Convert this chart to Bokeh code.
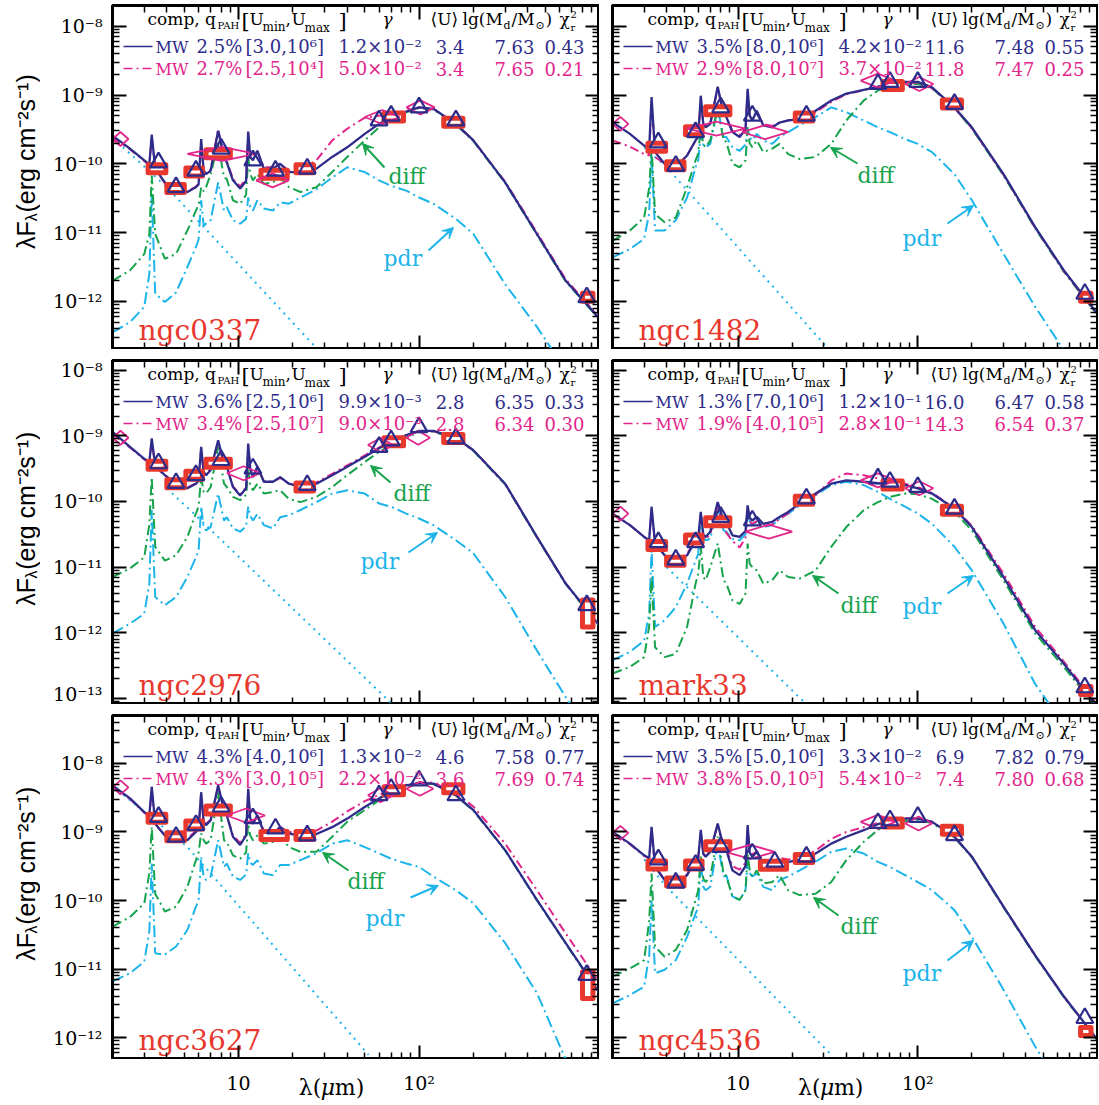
import math
from bokeh.plotting import figure
from bokeh.layouts import column, row
from bokeh.models import (Range1d, FixedTicker, LogAxis, CustomJSTickFormatter,
                          Arrow, VeeHead, Spacer)
from bokeh.core.properties import value
from bokeh.embed import file_html
from bokeh.resources import INLINE

# ---------------------------------------------------------------------------
# Model wavelength grid (micron); every model curve below is lg(lambda F_lambda)
# in erg cm^-2 s^-1 sampled on this grid.
# ---------------------------------------------------------------------------
WAVE = [2.0, 2.5, 3.0, 3.2, 3.3, 3.45, 3.9, 4.5, 5.2, 5.8,
        6.0, 6.2, 6.4, 6.6, 7.0, 7.7, 8.3, 8.6, 9.3, 10.2,
        11.0, 11.3, 11.6, 12.0, 12.7, 13.8, 15.5, 17.0, 19.0, 22.0,
        27.0, 33.0, 40.0, 50.0, 60.0, 70.0, 85.0, 100.0, 120.0, 160.0,
        200.0, 300.0, 450.0, 650.0, 1000.0]

# photometric bands of the observed points (IRAC, IRS-PU 16, MIPS, SCUBA)
OBS_WAVE = [3.6, 4.5, 5.8, 8.0, 16.0, 24.0, 70.0, 160.0, 850.0]
OBS_LO = [3.15, 4.0, 5.1, 6.6, 13.3, 20.8, 64.0, 137.0, 805.0]
OBS_HI = [3.95, 5.0, 6.3, 9.0, 18.6, 26.0, 82.0, 175.0, 920.0]
# bands at which the first model is convolved (triangles)
MODEL_BANDS = [3.6, 4.5, 5.8, 8.0, 12.0, 16.0, 24.0, 60.0, 70.0, 100.0, 160.0, 850.0]

# ---------------- ngc0337 ----------------
NGC0337_MW1 = [-9.59, -9.78, -9.95, -10.01, -9.575, -10.07, -10.27, -10.41, -10.41, -10.34,
               -10.30, -9.64, -10.10, -10.15, -10.10, -9.52, -9.90, -9.98, -10.24, -10.36,
               -10.25, -9.53, -9.90, -9.95, -9.81, -10.07, -10.07, -10.00, -10.12, -10.12,
               -10.07, -9.90, -9.76, -9.565, -9.42, -9.32, -9.24, -9.18, -9.20, -9.42,
               -9.66, -10.27, -11.02, -11.70, -12.25]
NGC0337_MW2 = [-9.62, -9.79, -9.96, -10.02, -9.62, -10.08, -10.28, -10.41, -10.40, -10.33,
               -10.29, -9.68, -10.10, -10.14, -10.08, -9.50, -9.88, -9.96, -10.22, -10.33,
               -10.22, -9.56, -9.90, -9.94, -9.82, -10.05, -10.05, -10.00, -10.10, -10.08,
               -9.95, -9.66, -9.49, -9.33, -9.30, -9.28, -9.23, -9.18, -9.20, -9.42,
               -9.66, -10.26, -11.00, -11.68, -12.23]
NGC0337_DIFF = [-11.70, -11.55, -11.31, -11.02, -10.17, -11.02, -11.38, -11.31, -10.97, -10.68,
                -10.60, -10.34, -10.40, -10.34, -10.15, -9.71, -10.20, -10.22, -10.53, -10.58,
                -10.45, -9.90, -10.15, -10.24, -10.15, -10.29, -10.27, -10.20, -10.34, -10.41,
                -10.34, -10.12, -9.90, -9.66, -9.47, -9.35, -9.25, -9.19, -9.21, -9.43,
                -9.67, -10.28, -11.03, -11.71, -12.26]
NGC0337_PDR = [-12.45, -12.30, -12.08, -11.60, -10.44, -11.89, -12.01, -11.87, -11.50, -11.21,
               -11.10, -10.53, -10.90, -10.87, -10.82, -10.27, -10.68, -10.63, -10.82, -10.87,
               -10.80, -10.49, -10.62, -10.68, -10.53, -10.65, -10.68, -10.56, -10.58, -10.49,
               -10.37, -10.20, -10.05, -10.12, -10.24, -10.32, -10.39, -10.49, -10.58, -10.80,
               -11.02, -11.75, -12.37, -13.00, -13.90]
NGC0337_STAR_WAVE = [2.0, 4.0, 27.7]
NGC0337_STAR = [-9.62, -10.34, -12.71]
NGC0337_OBS = [-10.07, -10.36, -10.12, -9.855, -10.15, -10.07, -9.32, -9.395, -11.94]
NGC0337_OBS_RANGE = [None] * 9
NGC0337_BAND = [-9.98, -10.34, -10.10, -9.78, -9.95, -10.10, -10.07, -9.37, -9.30, -9.18, -9.37, -11.94]
NGC0337_BROAD = [(2.0, 2.45, -9.64), (5.2, 12.5, -9.855), (12.5, 19.0, -10.24),
                 (50.0, 78.0, -9.32), (85.0, 122.0, -9.18)]

# ---------------- ngc1482 ----------------
NGC1482_MW1 = [-9.395, -9.565, -9.735, -9.78, -9.03, -9.83, -10.00, -10.05, -9.88, -9.66,
               -9.60, -9.01, -9.42, -9.47, -9.42, -8.88, -9.27, -9.32, -9.54, -9.61,
               -9.50, -8.91, -9.30, -9.37, -9.23, -9.44, -9.47, -9.40, -9.37, -9.35,
               -9.23, -9.08, -8.98, -8.925, -8.88, -8.85, -8.81, -8.81, -8.89, -9.18,
               -9.47, -10.15, -10.92, -11.55, -12.18]
NGC1482_MW2 = [-9.66, -9.75, -9.86, -9.88, -9.08, -9.90, -10.00, -10.03, -9.88, -9.66,
               -9.60, -9.05, -9.42, -9.46, -9.41, -8.90, -9.27, -9.32, -9.52, -9.58,
               -9.48, -8.95, -9.30, -9.36, -9.24, -9.42, -9.45, -9.40, -9.37, -9.35,
               -9.25, -9.10, -8.99, -8.93, -8.88, -8.85, -8.82, -8.82, -8.90, -9.19,
               -9.48, -10.16, -10.93, -11.56, -12.19]
NGC1482_DIFF = [-11.12, -10.97, -10.78, -10.35, -9.76, -10.73, -10.85, -10.78, -10.34, -9.95,
                -9.85, -9.47, -9.72, -9.76, -9.66, -9.18, -9.66, -9.68, -10.00, -10.05,
                -9.95, -9.47, -9.70, -9.76, -9.66, -9.83, -9.78, -9.71, -9.86, -9.93,
                -9.90, -9.71, -9.37, -9.08, -8.935, -8.88, -8.84, -8.84, -8.90, -9.19,
                -9.49, -10.17, -10.94, -11.57, -12.20]
NGC1482_PDR = [-11.36, -11.24, -11.09, -10.72, -9.86, -10.97, -10.97, -10.82, -10.49, -10.05,
               -9.95, -9.565, -9.72, -9.76, -9.71, -9.20, -9.61, -9.61, -9.76, -9.81,
               -9.72, -9.49, -9.62, -9.66, -9.565, -9.66, -9.71, -9.61, -9.54, -9.44,
               -9.32, -9.18, -9.25, -9.37, -9.47, -9.54, -9.64, -9.71, -9.83, -10.15,
               -10.53, -11.31, -12.08, -12.71, -13.60]
NGC1482_STAR_WAVE = [3.0, 4.0, 32.3]
NGC1482_STAR = [-9.76, -10.05, -12.71]
NGC1482_OBS = [-9.76, -10.03, -9.52, -9.23, None, -9.32, -8.86, -9.13, -11.94]
NGC1482_OBS_RANGE = [None] * 9
NGC1482_BAND = [-9.69, -10.03, -9.54, -9.18, -9.30, None, -9.30, -8.84, -8.81, -8.81, -9.13, -11.89]
NGC1482_BROAD = [(2.0, 2.45, -9.42), (5.2, 11.0, -9.49), (10.5, 19.0, -9.54),
                 (48.0, 75.0, -8.79), (85.0, 122.0, -8.84)]

# ---------------- ngc2976 ----------------
NGC2976_MW1 = [-8.94, -9.17, -9.35, -9.40, -9.04, -9.45, -9.60, -9.73, -9.80, -9.73,
               -9.68, -9.17, -9.55, -9.60, -9.52, -9.07, -9.42, -9.47, -9.78, -9.91,
               -9.80, -9.12, -9.50, -9.63, -9.47, -9.70, -9.70, -9.63, -9.73, -9.78,
               -9.73, -9.60, -9.47, -9.32, -9.19, -9.09, -8.99, -8.925, -8.925, -9.03,
               -9.22, -9.73, -10.54, -11.25, -11.89]
NGC2976_MW2 = [-8.97, -9.18, -9.36, -9.41, -9.08, -9.46, -9.61, -9.73, -9.79, -9.72,
               -9.67, -9.20, -9.55, -9.59, -9.51, -9.09, -9.42, -9.47, -9.77, -9.89,
               -9.79, -9.15, -9.50, -9.62, -9.48, -9.69, -9.70, -9.64, -9.73, -9.77,
               -9.71, -9.58, -9.45, -9.30, -9.18, -9.08, -8.99, -8.93, -8.93, -9.03,
               -9.22, -9.73, -10.54, -11.25, -11.89]
NGC2976_DIFF = [-11.15, -11.02, -10.85, -10.35, -9.63, -10.69, -10.90, -10.82, -10.54, -10.18,
                -10.08, -9.63, -9.85, -9.88, -9.78, -9.17, -9.73, -9.78, -9.93, -9.98,
                -9.90, -9.52, -9.75, -9.83, -9.73, -9.88, -9.855, -9.83, -9.96, -10.01,
                -9.93, -9.78, -9.60, -9.40, -9.245, -9.14, -9.03, -8.94, -8.94, -9.04,
                -9.23, -9.74, -10.55, -11.26, -11.90]
NGC2976_PDR = [-12.01, -11.86, -11.71, -11.25, -10.13, -11.455, -11.58, -11.455, -11.15, -10.85,
               -10.75, -10.08, -10.40, -10.44, -10.39, -9.88, -10.29, -10.24, -10.41, -10.46,
               -10.38, -10.08, -10.22, -10.29, -10.19, -10.36, -10.41, -10.24, -10.21, -10.13,
               -10.01, -9.88, -9.83, -9.88, -10.03, -10.08, -10.185, -10.26, -10.36, -10.59,
               -10.79, -11.455, -12.27, -12.98, -13.80]
NGC2976_STAR_WAVE = [4.0, 5.9, 70.0]
NGC2976_STAR = [-9.80, -10.235, -13.07]
NGC2976_OBS = [-9.45, -9.73, -9.60, -9.42, None, -9.78, -9.09, -9.04, -11.71]
NGC2976_OBS_RANGE = [None] * 8 + [(-11.91, -11.50)]
NGC2976_BAND = [-9.42, -9.72, -9.60, -9.37, -9.50, None, -9.75, -9.17, -9.07, -8.87, -9.04, -11.58]
NGC2976_BROAD = [(2.0, 2.45, -9.03), (8.6, 13.2, -9.57), (52.0, 72.0, -9.14), (85.0, 115.0, -9.03)]

# ---------------- mark33 ----------------
MARK33_MW1 = [-10.185, -10.36, -10.54, -10.59, -10.08, -10.64, -10.82, -10.90, -10.82, -10.59,
              -10.55, -10.16, -10.50, -10.54, -10.46, -10.01, -10.29, -10.32, -10.515, -10.54,
              -10.45, -10.06, -10.25, -10.29, -10.235, -10.34, -10.31, -10.235, -10.16, -10.03,
              -9.88, -9.73, -9.68, -9.70, -9.72, -9.73, -9.75, -9.80, -9.88, -10.11,
              -10.39, -11.15, -11.96, -12.47, -13.13]
MARK33_MW2 = [-10.19, -10.36, -10.54, -10.59, -10.12, -10.64, -10.82, -10.89, -10.80, -10.58,
              -10.55, -10.20, -10.52, -10.58, -10.50, -10.05, -10.40, -10.48, -10.60, -10.70,
              -10.55, -10.10, -10.30, -10.34, -10.30, -10.38, -10.35, -10.27, -10.18, -10.03,
              -9.90, -9.68, -9.575, -9.60, -9.65, -9.68, -9.73, -9.78, -9.87, -10.10,
              -10.37, -11.10, -11.91, -12.44, -13.10]
MARK33_DIFF = [-12.62, -12.52, -12.37, -11.90, -11.15, -12.22, -12.37, -12.32, -11.91, -11.25,
               -11.10, -10.69, -11.15, -11.20, -11.00, -10.64, -11.20, -11.25, -11.505, -11.56,
               -11.40, -10.64, -10.95, -11.00, -11.05, -11.25, -11.20, -11.05, -11.15, -11.175,
               -11.05, -10.69, -10.39, -10.135, -10.01, -9.93, -9.88, -9.89, -9.96, -10.16,
               -10.44, -11.20, -12.01, -12.52, -13.16]
MARK33_PDR = [-12.42, -12.29, -12.12, -11.70, -10.745, -11.91, -11.81, -11.61, -11.25, -10.90,
              -10.80, -10.185, -10.55, -10.59, -10.57, -10.08, -10.44, -10.46, -10.57, -10.59,
              -10.50, -10.13, -10.30, -10.36, -10.31, -10.39, -10.36, -10.26, -10.185, -10.06,
              -9.905, -9.75, -9.70, -9.75, -9.855, -9.96, -10.08, -10.185, -10.34, -10.69,
              -11.05, -11.86, -12.78, -13.40, -14.30]
MARK33_STAR_WAVE = [4.0, 24.4]
MARK33_STAR = [-11.00, -13.11]
MARK33_OBS = [-10.67, -10.91, -10.57, -10.31, None, -9.98, -9.75, -10.135, -12.88]
MARK33_OBS_RANGE = [None] * 9
MARK33_BAND = [-10.62, -10.886, -10.62, -10.235, -10.29, None, -9.955, -9.65, -9.70, -9.78, -10.11, -12.83]
MARK33_BROAD = [(2.0, 2.45, -10.185), (11.0, 20.0, -10.46), (48.0, 75.0, -9.68), (85.0, 122.0, -9.80)]

# ---------------- ngc3627 ----------------
NGC3627_MW1 = [-8.32, -8.51, -8.71, -8.76, -8.34, -8.88, -9.05, -9.14, -9.12, -9.00,
               -8.95, -8.42, -8.85, -8.90, -8.83, -8.32, -8.68, -8.76, -9.07, -9.19,
               -9.05, -8.37, -8.80, -8.88, -8.76, -9.00, -9.02, -8.93, -9.02, -9.06,
               -9.03, -8.93, -8.805, -8.635, -8.51, -8.42, -8.32, -8.285, -8.295, -8.465,
               -8.68, -9.265, -9.99, -10.62, -11.35]
NGC3627_MW2 = [-8.33, -8.52, -8.72, -8.77, -8.38, -8.89, -9.05, -9.13, -9.10, -8.98,
               -8.94, -8.45, -8.84, -8.88, -8.82, -8.34, -8.68, -8.75, -9.05, -9.16,
               -9.03, -8.40, -8.80, -8.87, -8.77, -8.98, -9.00, -8.93, -9.00, -9.02,
               -8.98, -8.85, -8.70, -8.55, -8.46, -8.39, -8.31, -8.28, -8.28, -8.43,
               -8.63, -9.17, -9.85, -10.48, -11.20]
NGC3627_DIFF = [-10.38, -10.24, -10.04, -9.60, -8.925, -9.90, -10.16, -10.09, -9.80, -9.41,
                -9.30, -9.02, -9.12, -9.17, -9.12, -8.42, -9.12, -9.15, -9.34, -9.39,
                -9.30, -8.88, -9.05, -9.12, -9.05, -9.17, -9.145, -9.07, -9.22, -9.29,
                -9.29, -9.07, -8.85, -8.68, -8.54, -8.44, -8.34, -8.29, -8.30, -8.47,
                -8.69, -9.27, -10.00, -10.63, -11.36]
NGC3627_PDR = [-11.18, -11.06, -10.89, -10.45, -9.46, -10.77, -10.79, -10.67, -10.43, -10.09,
               -10.00, -9.36, -9.65, -9.70, -9.65, -9.12, -9.51, -9.46, -9.65, -9.70,
               -9.62, -9.31, -9.45, -9.48, -9.41, -9.605, -9.63, -9.48, -9.48, -9.41,
               -9.31, -9.17, -9.12, -9.22, -9.31, -9.39, -9.46, -9.51, -9.65, -9.85,
               -10.04, -10.62, -11.35, -12.32, -13.40]
NGC3627_STAR_WAVE = [2.0, 5.2, 52.5]
NGC3627_STAR = [-8.33, -9.217, -12.25]
NGC3627_OBS = [-8.80, -9.07, -8.90, -8.68, -9.05, -9.05, -8.40, -8.37, -11.25]
NGC3627_OBS_RANGE = [None] * 8 + [(-11.43, -11.04)]
NGC3627_BAND = [-8.78, -9.07, -8.90, -8.63, -8.80, -8.95, -9.05, -8.465, -8.37, -8.25, -8.465, -11.085]
NGC3627_BROAD = [(2.0, 2.45, -8.35), (8.6, 14.0, -8.76), (52.0, 72.0, -8.465), (85.0, 120.0, -8.37)]

# ---------------- ngc4536 ----------------
NGC4536_MW1 = [-9.00, -9.17, -9.34, -9.38, -8.925, -9.51, -9.70, -9.775, -9.63, -9.41,
               -9.38, -8.97, -9.32, -9.36, -9.29, -8.877, -9.217, -9.26, -9.56, -9.63,
               -9.50, -8.90, -9.30, -9.36, -9.29, -9.46, -9.484, -9.41, -9.435, -9.41,
               -9.314, -9.17, -9.07, -8.974, -8.887, -8.84, -8.805, -8.805, -8.853, -9.07,
               -9.36, -10.09, -10.80, -11.40, -12.03]
NGC4536_MW2 = [-9.01, -9.18, -9.35, -9.39, -8.97, -9.51, -9.69, -9.76, -9.62, -9.40,
               -9.37, -9.00, -9.31, -9.35, -9.28, -8.90, -9.21, -9.25, -9.50, -9.55,
               -9.45, -8.95, -9.28, -9.33, -9.28, -9.42, -9.44, -9.38, -9.40, -9.38,
               -9.27, -9.10, -9.00, -8.93, -8.87, -8.83, -8.80, -8.80, -8.85, -9.07,
               -9.36, -10.09, -10.80, -11.40, -12.03]
NGC4536_DIFF = [-11.11, -10.99, -10.87, -10.30, -9.605, -10.67, -10.82, -10.72, -10.43, -9.99,
                -9.85, -9.36, -9.68, -9.73, -9.65, -9.07, -9.605, -9.65, -9.94, -9.99,
                -9.85, -9.314, -9.55, -9.65, -9.56, -9.75, -9.73, -9.63, -9.85, -9.92,
                -9.90, -9.73, -9.41, -9.144, -8.97, -8.887, -8.84, -8.83, -8.87, -9.08,
                -9.37, -10.10, -10.81, -11.41, -12.04]
NGC4536_PDR = [-11.50, -11.38, -11.255, -10.80, -9.99, -11.06, -11.01, -10.87, -10.53, -10.19,
               -10.10, -9.41, -9.80, -9.85, -9.80, -9.17, -9.65, -9.63, -9.94, -9.99,
               -9.85, -9.41, -9.60, -9.65, -9.605, -9.80, -9.85, -9.70, -9.65, -9.56,
               -9.435, -9.29, -9.24, -9.314, -9.435, -9.51, -9.63, -9.73, -9.85, -10.14,
               -10.53, -11.30, -12.13, -12.80, -13.70]
NGC4536_STAR_WAVE = [3.0, 4.0, 32.3]
NGC4536_STAR = [-9.40, -9.80, -12.225]
NGC4536_OBS = [-9.48, -9.73, -9.48, -9.20, -9.484, -9.387, -8.87, -8.974, -11.91]
NGC4536_OBS_RANGE = [None] * 9
NGC4536_BAND = [-9.40, -9.74, -9.48, -9.22, -9.314, -9.435, -9.36, -8.87, -8.83, -8.78, -9.047, -11.715]
NGC4536_BROAD = [(2.0, 2.45, -9.013), (8.5, 16.0, -9.29), (48.0, 75.0, -8.853), (85.0, 120.0, -8.877)]

# fit parameters: q_PAH, [Umin,Umax], gamma, <U>, lg(Md/Msun), chi2_r
NAMES = ["ngc0337", "ngc1482", "ngc2976", "mark33", "ngc3627", "ngc4536"]
FIT_MW1 = [("2.5%", "[3.0,10⁶]", "1.2×10⁻²", "3.4", "7.63", "0.43"),
           ("3.5%", "[8.0,10⁶]", "4.2×10⁻²", "11.6", "7.48", "0.55"),
           ("3.6%", "[2.5,10⁶]", "9.9×10⁻³", "2.8", "6.35", "0.33"),
           ("1.3%", "[7.0,10⁶]", "1.2×10⁻¹", "16.0", "6.47", "0.58"),
           ("4.3%", "[4.0,10⁶]", "1.3×10⁻²", "4.6", "7.58", "0.77"),
           ("3.5%", "[5.0,10⁶]", "3.3×10⁻²", "6.9", "7.82", "0.79")]
FIT_MW2 = [("2.7%", "[2.5,10⁴]", "5.0×10⁻²", "3.4", "7.65", "0.21"),
           ("2.9%", "[8.0,10⁷]", "3.7×10⁻²", "11.8", "7.47", "0.25"),
           ("3.4%", "[2.5,10⁷]", "9.0×10⁻³", "2.8", "6.34", "0.30"),
           ("1.9%", "[4.0,10⁵]", "2.8×10⁻¹", "14.3", "6.54", "0.37"),
           ("4.3%", "[3.0,10⁵]", "2.2×10⁻²", "3.6", "7.69", "0.74"),
           ("3.8%", "[5.0,10⁵]", "5.4×10⁻²", "7.4", "7.80", "0.68")]

PANEL_DATA = [
    (NGC0337_MW1, NGC0337_MW2, NGC0337_DIFF, NGC0337_PDR, NGC0337_STAR_WAVE, NGC0337_STAR,
     NGC0337_OBS, NGC0337_OBS_RANGE, NGC0337_BAND, NGC0337_BROAD),
    (NGC1482_MW1, NGC1482_MW2, NGC1482_DIFF, NGC1482_PDR, NGC1482_STAR_WAVE, NGC1482_STAR,
     NGC1482_OBS, NGC1482_OBS_RANGE, NGC1482_BAND, NGC1482_BROAD),
    (NGC2976_MW1, NGC2976_MW2, NGC2976_DIFF, NGC2976_PDR, NGC2976_STAR_WAVE, NGC2976_STAR,
     NGC2976_OBS, NGC2976_OBS_RANGE, NGC2976_BAND, NGC2976_BROAD),
    (MARK33_MW1, MARK33_MW2, MARK33_DIFF, MARK33_PDR, MARK33_STAR_WAVE, MARK33_STAR,
     MARK33_OBS, MARK33_OBS_RANGE, MARK33_BAND, MARK33_BROAD),
    (NGC3627_MW1, NGC3627_MW2, NGC3627_DIFF, NGC3627_PDR, NGC3627_STAR_WAVE, NGC3627_STAR,
     NGC3627_OBS, NGC3627_OBS_RANGE, NGC3627_BAND, NGC3627_BROAD),
    (NGC4536_MW1, NGC4536_MW2, NGC4536_DIFF, NGC4536_PDR, NGC4536_STAR_WAVE, NGC4536_STAR,
     NGC4536_OBS, NGC4536_OBS_RANGE, NGC4536_BAND, NGC4536_BROAD),
]

# label placement (frame pixel offsets from the top-left corner):
# diff text, diff arrow tail/head, pdr text, pdr arrow tail/head
TAGS = [
    ((276, 178), (272, 162), (250, 138), (271, 260), (316, 245), (341, 222)),
    ((245, 177), (245, 158), (218, 142), (290, 240), (335, 218), (361, 200)),
    ((281, 140), (278, 122), (258, 105), (248, 208), (296, 192), (325, 172)),
    ((228, 252), (226, 233), (200, 215), (290, 253), (335, 233), (361, 215)),
    ((235, 173), (236, 155), (210, 137), (253, 210), (298, 182), (326, 170)),
    ((228, 218), (226, 200), (201, 182), (290, 265), (335, 245), (361, 225)),
]

# ---------------------------------------------------------------------------
NAVY = "#2e2c8a"
MAGENTA = "#e2258b"
GREEN = "#16a34c"
SKY = "#1db4ea"
RED = "#e8382e"
SERIF = "DejaVu Serif"
SANS = "Liberation Sans"

X_LIM = (2.0, 1000.0)
ROW_YLIM = [(2.0e-13, 2.0e-8), (8.1e-14, 1.4e-8), (4.8e-13, 5.0e-8)]
FRAME_W = (487, 485)
FRAME_H = 344
YLAB_W = 40          # strip holding the rotated y title
LEFT_BORDER = (72, 13)
STRIP_H = 45         # strip under the bottom row with the x tick labels

X_MAJOR = [10.0, 100.0, 1000.0]
X_MINOR = [k * 10.0 ** n for n in range(0, 3) for k in range(2, 10)]
Y_MAJOR = [10.0 ** n for n in range(-14, -6)]
Y_MINOR = [k * 10.0 ** n for n in range(-14, -7) for k in range(2, 10)]

Y_FMT = """
const e = Math.round(Math.log10(tick));
const m = {"-": "\u207b", "0": "\u2070", "1": "\u00b9", "2": "\u00b2", "3": "\u00b3",
           "4": "\u2074", "5": "\u2075", "6": "\u2076", "7": "\u2077", "8": "\u2078", "9": "\u2079"};
return "10" + String(e).split("").map(c => m[c]).join("");
"""
BLANK_FMT = "return '';"


def lin(vals):
    return [10.0 ** v for v in vals]


class Frame:
    """Converts pixel offsets inside a panel frame into data coordinates."""

    def __init__(self, col, r):
        self.w = FRAME_W[col]
        self.lx0, self.lx1 = math.log10(X_LIM[0]), math.log10(X_LIM[1])
        y0, y1 = ROW_YLIM[r]
        self.ly0, self.ly1 = math.log10(y0), math.log10(y1)
        self.ppd = FRAME_H / (self.ly1 - self.ly0)

    def at(self, dx, dy):
        x = 10 ** (self.lx0 + dx / self.w * (self.lx1 - self.lx0))
        y = 10 ** (self.ly1 - dy / FRAME_H * (self.ly1 - self.ly0))
        return x, y


def style_axis(ax, show, fmt):
    ax.axis_line_width = 3
    ax.axis_line_color = "black"
    ax.major_tick_in = 14
    ax.major_tick_out = 0
    ax.minor_tick_in = 7
    ax.minor_tick_out = 0
    ax.major_tick_line_width = 2
    ax.minor_tick_line_width = 1.5
    ax.major_label_text_font = SERIF
    ax.major_label_text_color = "black"
    ax.formatter = CustomJSTickFormatter(code=fmt if show else BLANK_FMT)
    ax.major_label_text_font_size = "19px" if show else "0px"
    ax.major_label_standoff = 10 if show else 0
    ax.axis_label = None


def put_text(p, x, y, s, size, color, align="left", style="normal", font=SERIF,
             baseline="middle", angle=0.0, x_offset=0):
    p.text(x=[x], y=[y], text=[s], text_font=value(font), text_font_size=value(f"{size}px"),
           text_color=color, text_align=value(align), text_baseline=value(baseline),
           text_font_style=value(style), angle=angle, x_offset=x_offset)


def text(p, fr, s, dx, dy, size, color, **kw):
    # dy is the baseline offset; the glyph is anchored at the middle of its em box
    x, y = fr.at(dx, dy - 0.32 * size)
    put_text(p, x, y, s, size, color, **kw)


HEADER = [("comp, q", 35, 19, 17), ("PAH", 105, 23, 10), ("[", 129, 22, 21), ("U", 137, 19, 17),
          ("min", 150, 25, 12), (",", 173, 19, 17), ("U", 179, 19, 17), ("max", 192, 26, 12),
          ("]", 226, 22, 21), ("γ", 270, 19, 17), ("⟨U⟩", 318, 19, 17), ("lg(M", 350, 19, 17),
          ("d", 391, 24, 11), ("/M", 399, 19, 17), ("⊙", 423, 24, 11), (")", 433, 19, 17),
          ("χ", 447, 19, 17), ("2", 458, 12, 10), ("r", 458, 25, 10)]


def bare_figure(**kw):
    p = figure(output_backend="svg", toolbar_location=None, x_axis_location=None,
               y_axis_location=None, outline_line_color=None, min_border=0,
               background_fill_color="white", border_fill_color="white", **kw)
    p.grid.visible = False
    return p


def build_panel(idx):
    c, r = idx % 2, idx // 2
    left = c == 0
    fr = Frame(c, r)
    y0, y1 = ROW_YLIM[r]
    p = figure(x_axis_type="log", y_axis_type="log",
               x_range=Range1d(*X_LIM), y_range=Range1d(y0, y1),
               frame_width=FRAME_W[c], frame_height=FRAME_H,
               min_border_left=LEFT_BORDER[c], min_border_right=0 if left else 1,
               min_border_top=5 if r == 0 else 11, min_border_bottom=0,
               output_backend="svg", toolbar_location=None,
               background_fill_color="white", border_fill_color="white")
    p.grid.visible = False
    p.outline_line_color = "black"
    p.outline_line_width = 3

    xt = FixedTicker(ticks=X_MAJOR, minor_ticks=X_MINOR)
    yt = FixedTicker(ticks=Y_MAJOR, minor_ticks=Y_MINOR)
    p.xaxis.ticker = xt
    p.yaxis.ticker = yt
    style_axis(p.xaxis[0], False, BLANK_FMT)
    style_axis(p.yaxis[0], left, Y_FMT)
    top_ax = LogAxis(ticker=xt)
    right_ax = LogAxis(ticker=yt)
    style_axis(top_ax, False, BLANK_FMT)
    style_axis(right_ax, False, BLANK_FMT)
    p.add_layout(top_ax, "above")
    p.add_layout(right_ax, "right")

    (mw1, mw2, diff, pdr, star_w, star, obs, obs_rng, band, broad) = PANEL_DATA[idx]

    # model components and totals
    p.line(star_w, lin(star), line_color=SKY, line_width=2, line_dash="2 5")
    p.line(WAVE, lin(pdr), line_color=SKY, line_width=2, line_dash="12 4 2 4")
    p.line(WAVE, lin(diff), line_color=GREEN, line_width=2, line_dash="10 4 2 4")
    p.line(WAVE, lin(mw2), line_color=MAGENTA, line_width=2, line_dash="9 4 2 4")
    p.line(WAVE, lin(mw1), line_color=NAVY, line_width=2.3)

    # observed photometry: band width horizontally, a few pixels tall, thick outline
    half = 4.0 / fr.ppd
    ql, qr, qb, qt = [], [], [], []
    for lo, hi, v, rng in zip(OBS_LO, OBS_HI, obs, obs_rng):
        if v is None:
            continue
        ql.append(lo)
        qr.append(hi)
        if rng is None:
            qb.append(10 ** (v - half))
            qt.append(10 ** (v + half))
        else:
            qb.append(10 ** rng[0])
            qt.append(10 ** rng[1])
    p.quad(left=ql, right=qr, bottom=qb, top=qt, fill_color="white", line_color=RED,
           line_width=5, line_join="round")

    # broad-band values of the second model (elongated diamonds)
    dh = 7.0 / fr.ppd
    xs, ys = [], []
    for lo, hi, v in broad:
        mid = math.sqrt(lo * hi)
        xs.append([lo, mid, hi, mid, lo])
        ys.append([10 ** v, 10 ** (v + dh), 10 ** v, 10 ** (v - dh), 10 ** v])
    p.multi_line(xs, ys, line_color=MAGENTA, line_width=1.8)

    # band-convolved first model
    bx = [w for w, v in zip(MODEL_BANDS, band) if v is not None]
    by = [10 ** v for v in band if v is not None]
    p.scatter(bx, by, marker="triangle", size=17, fill_color=None,
              line_color=NAVY, line_width=2.2)

    # legend block
    for s, dx, dy, size in HEADER:
        style = "italic" if s == "γ" else "normal"
        text(p, fr, s, dx, dy, size, "black", style=style)
    for k, (fit, color, dash) in enumerate([(FIT_MW1[idx], NAVY, None),
                                            (FIT_MW2[idx], MAGENTA, "9 4 2 4")]):
        base = 47 + 22 * k
        xa, ya = fr.at(11, base - 6)
        xb, _ = fr.at(40, base - 6)
        if dash is None:
            p.line([xa, xb], [ya, ya], line_color=color, line_width=1.6)
        else:
            p.line([xa, xb], [ya, ya], line_color=color, line_width=1.6, line_dash=dash)
        q, u, g, uavg, md, chi = fit
        text(p, fr, "MW", 43, base, 16, color)
        text(p, fr, q, 84, base, 18, color)
        text(p, fr, u, 133, base, 18, color)
        text(p, fr, g, 226, base, 18, color)
        text(p, fr, uavg, 352, base, 18, color, align="right")
        text(p, fr, md, 422, base, 18, color, align="right")
        text(p, fr, chi, 472, base, 18, color, align="right")

    # galaxy name
    text(p, fr, NAMES[idx], 26, 334, 28, RED)

    # component tags with arrows
    dtxt, dtail, dhead, ptxt, ptail, phead = TAGS[idx]
    text(p, fr, "diff", dtxt[0], dtxt[1], 22, GREEN)
    text(p, fr, "pdr", ptxt[0], ptxt[1], 22, SKY)
    for tail, head, color in ((dtail, dhead, GREEN), (ptail, phead, SKY)):
        x0, y0a = fr.at(*tail)
        x1, y1a = fr.at(*head)
        p.add_layout(Arrow(end=VeeHead(size=11, line_color=color, fill_color=color, line_width=1),
                           x_start=x0, y_start=y0a, x_end=x1, y_end=y1a,
                           line_color=color, line_width=2))
    return p


def build_ytitle(r):
    # rotated title lambda F_lambda (erg cm^-2 s^-1), reading upwards
    h = (5 if r == 0 else 11) + FRAME_H
    p = bare_figure(width=YLAB_W, height=h, x_range=Range1d(0, YLAB_W), y_range=Range1d(0, h))
    up = math.pi / 2
    put_text(p, 25, 102, "λF", 25, "black", font=SANS, angle=up)
    put_text(p, 31, 130, "λ", 16, "black", font=SANS, angle=up)
    put_text(p, 25, 139, "(erg cm⁻²s⁻¹)", 25, "black", font=SANS, angle=up)
    return p


def build_xstrip(c):
    # tick labels and the wavelength title under a bottom panel, on the panel's log scale
    p = bare_figure(x_axis_type="log", x_range=Range1d(*X_LIM), y_range=Range1d(0, STRIP_H),
                    frame_width=FRAME_W[c], frame_height=STRIP_H)
    p.min_border_left = LEFT_BORDER[c]
    p.min_border_right = 0 if c == 0 else 1
    put_text(p, 10.0, 22, "10", 19, "black", align="center")
    put_text(p, 100.0, 22, "10²", 19, "black", align="center")
    mid = math.sqrt(10.0 * 100.0)
    put_text(p, mid, 17, "λ(", 22, "black", x_offset=-30)
    put_text(p, mid, 17, "μ", 22, "black", style="italic", x_offset=-8)
    put_text(p, mid, 17, "m)", 22, "black", x_offset=6)
    return p


panels = [build_panel(i) for i in range(6)]
rows = [row(build_ytitle(r), panels[2 * r], panels[2 * r + 1]) for r in range(3)]
rows.append(row(Spacer(width=YLAB_W, height=STRIP_H), build_xstrip(0), build_xstrip(1)))
layout = column(*rows)

open("out.html", "w").write(file_html(layout, INLINE))
